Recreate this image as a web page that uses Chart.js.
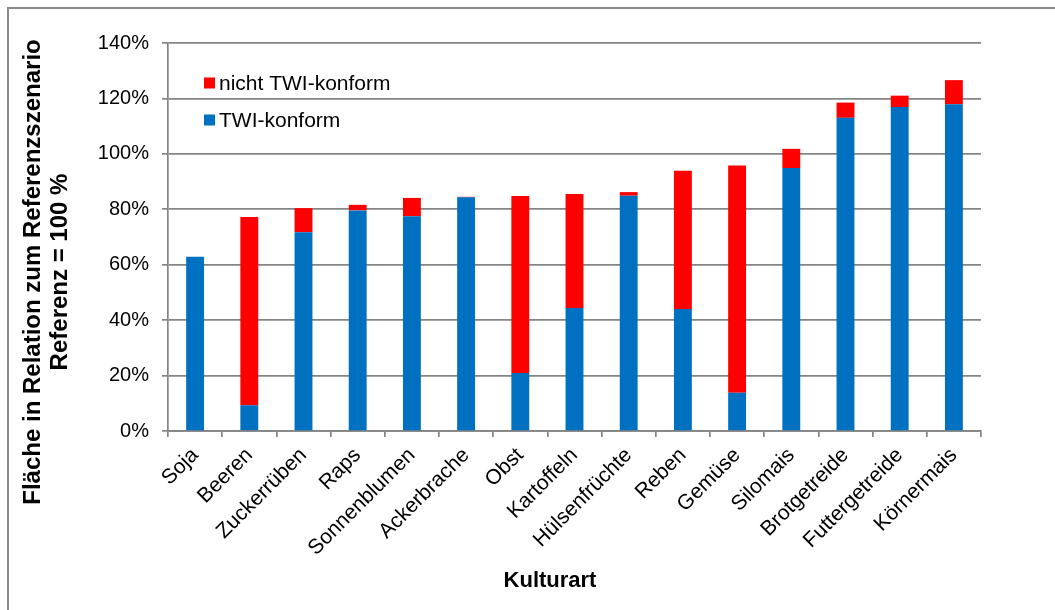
<!DOCTYPE html>
<html>
<head>
<meta charset="utf-8">
<script src="https://cdn.jsdelivr.net/npm/chart.js@4.4.0/dist/chart.umd.min.js"></script>
<style>
    html, body { margin: 0; padding: 0; background: #fff; overflow: hidden; }
    #wrap { position: relative; width: 1055px; height: 610px; }
    #frame { position: absolute; left: 7px; top: 7px; width: 1100px; height: 700px;
             border-top: 2px solid #8c8c8c; border-left: 2px solid #8c8c8c; box-sizing: border-box; }
    canvas { position: absolute; left: 0; top: 0; }
</style>
</head>
<body>
<div id="wrap">
    <div id="frame"></div>
    <canvas id="flaecheChart" width="1055" height="610"></canvas>
</div>
<script>
// Kulturarten (x axis)
const categories = ['Soja', 'Beeren', 'Zuckerrüben', 'Raps', 'Sonnenblumen', 'Ackerbrache', 'Obst',
    'Kartoffeln', 'Hülsenfrüchte', 'Reben', 'Gemüse', 'Silomais', 'Brotgetreide', 'Futtergetreide', 'Körnermais'];

// share of the reference area in %, stacked
const twiKonform = [62.9, 9.3, 71.7, 79.6, 77.5, 84.3, 20.9, 44.4, 84.9, 44.0, 13.8, 94.9, 113.0, 116.9, 117.9];
const nichtTwiKonform = [0, 67.9, 8.7, 2.0, 6.6, 0.2, 63.9, 41.1, 1.3, 49.9, 82.0, 6.9, 5.5, 4.1, 8.7];

const yTicks = [0, 20, 40, 60, 80, 100, 120, 140];

const seriesLabels = ['TWI-konform', 'nicht TWI-konform'];
const yTitleLines = ['Fläche in Relation zum Referenzszenario', 'Referenz = 100 %'];
const xTitle = 'Kulturart';

const FONT = "'Liberation Sans', Arial, sans-serif";
const GRID = '#858585';

// titles and legend are placed by hand to sit where the original has them
const annotations = {
    id: 'annotations',
    afterDraw(chart) {
        const ctx = chart.ctx;
        ctx.save();
        ctx.fillStyle = '#000';

        // y title, rotated
        ctx.font = 'bold 24px ' + FONT;
        ctx.textAlign = 'center';
        ctx.textBaseline = 'middle';
        ctx.save();
        ctx.translate(33, 272);
        ctx.rotate(-Math.PI / 2);
        ctx.fillText(yTitleLines[0], 0, 0);
        ctx.fillText(yTitleLines[1], 0, 27);
        ctx.restore();

        // x title
        ctx.font = 'bold 22px ' + FONT;
        ctx.fillText(xTitle, 550, 581);

        // legend, reversed so the top series comes first
        ctx.font = '21px ' + FONT;
        ctx.textAlign = 'left';
        const rows = chart.data.datasets.slice().reverse();
        rows.forEach((ds, i) => {
            const cy = 83 + i * 37;
            ctx.fillStyle = ds.backgroundColor;
            ctx.fillRect(204, cy - 5.5, 11, 11);
            ctx.fillStyle = '#000';
            ctx.fillText(ds.label, 219, cy + 1);
        });
        ctx.restore();
    }
};

new Chart(document.getElementById('flaecheChart').getContext('2d'), {
    type: 'bar',
    data: {
        labels: categories,
        datasets: [{
            label: seriesLabels[0],
            data: twiKonform,
            backgroundColor: '#0070C0',
            borderWidth: 0,
            categoryPercentage: 1,
            barPercentage: 0.33
        }, {
            label: seriesLabels[1],
            data: nichtTwiKonform,
            backgroundColor: '#FF0000',
            borderWidth: 0,
            categoryPercentage: 1,
            barPercentage: 0.33
        }]
    },
    options: {
        responsive: false,
        animation: false,
        devicePixelRatio: 1,
        layout: { padding: { top: 43, right: 74, left: 0, bottom: 0 } },
        plugins: {
            legend: { display: false },
            tooltip: { enabled: false }
        },
        scales: {
            x: {
                stacked: true,
                afterFit: s => { s.height = 179; },
                border: { color: GRID, width: 1.7 },
                grid: { drawOnChartArea: false, drawTicks: true, tickLength: 6, color: GRID, lineWidth: 1.7, offset: true },
                ticks: {
                    color: '#000',
                    font: { family: FONT, size: 21 },
                    maxRotation: 45,
                    minRotation: 45,
                    autoSkip: false,
                    padding: 6
                }
            },
            y: {
                stacked: true,
                min: 0,
                max: 140,
                afterFit: s => { s.width = 168; },
                afterBuildTicks: s => { s.ticks = yTicks.map(v => ({ value: v })); },
                border: { color: GRID, width: 1.7 },
                grid: { color: GRID, lineWidth: 1.7, tickLength: 6 },
                ticks: {
                    color: '#000',
                    font: { family: FONT, size: 20 },
                    padding: 13,
                    callback: v => v + '%'
                }
            }
        }
    },
    plugins: [annotations]
});
</script>
</body>
</html>
